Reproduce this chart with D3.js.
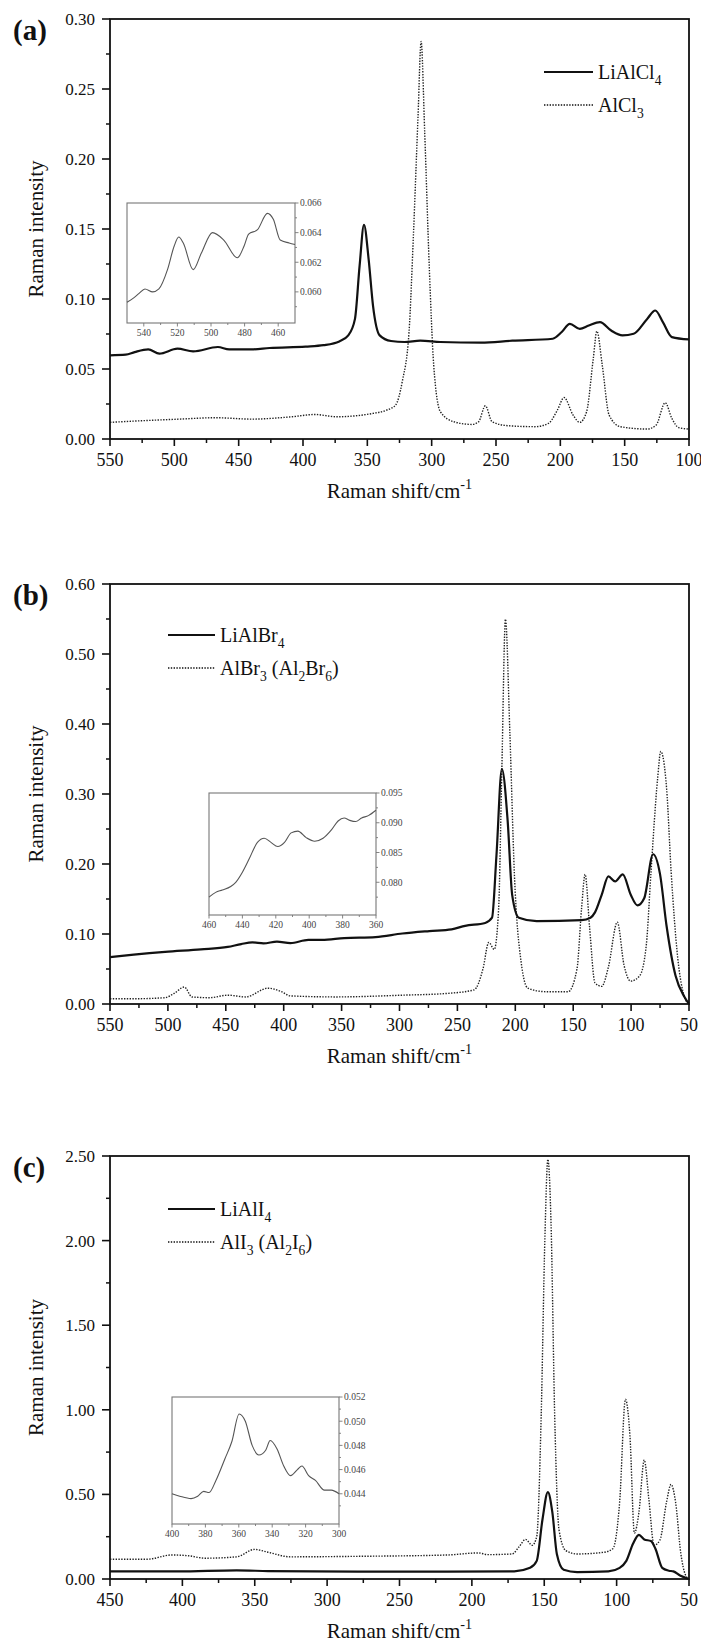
<!DOCTYPE html>
<html><head><meta charset="utf-8">
<script src="https://cdn.jsdelivr.net/npm/d3@7"></script>
<style>body{margin:0;background:#fff} svg{display:block} text{font-family:"Liberation Serif","Times New Roman",serif;}</style>
</head><body><svg id="c" width="701" height="1647"></svg>
<script>
// ---------- DATA ----------
// Panel (a)
const aLiAlCl4 = [[550,0.0598],[537.8,0.0602],[530.8,0.0621],[520.3,0.064],[511.6,0.061],[497.6,0.0645],[485.4,0.0626],[466.2,0.0657],[457.4,0.064],[440,0.064],[426,0.065],[398,0.066],[384,0.067],[371.8,0.0697],[364.8,0.074],[359.6,0.0858],[356,0.1238],[352.6,0.153],[349,0.1285],[345.6,0.0953],[340.4,0.074],[331.6,0.070],[321,0.0693],[308.9,0.0702],[293.2,0.0693],[261.7,0.0688],[237.3,0.0702],[205.9,0.0716],[198.9,0.0764],[192.6,0.0823],[184.9,0.0787],[177.9,0.0811],[169.2,0.0835],[160.5,0.0775],[151.7,0.074],[143,0.0752],[132.5,0.0858],[126.2,0.0918],[120.3,0.0835],[113.3,0.0728],[100,0.0711]];
const aAlCl3 = [[550,0.0119],[530.8,0.0128],[495.8,0.0142],[467.9,0.0152],[440,0.0142],[408.5,0.0159],[391,0.0175],[373.6,0.0159],[345.6,0.0183],[335.1,0.0206],[328.1,0.0242],[322.9,0.0408],[317.6,0.0764],[314.1,0.1475],[310.6,0.2305],[308.2,0.2839],[305.4,0.2187],[301.9,0.1238],[298.4,0.0526],[293.2,0.0194],[282.7,0.0123],[268.7,0.0104],[263.5,0.0123],[258.3,0.0237],[253,0.0123],[240.8,0.0095],[219.8,0.0088],[209.3,0.0111],[202.3,0.0206],[197.1,0.0296],[190.1,0.0171],[184.9,0.0119],[179.6,0.0194],[174.4,0.0574],[171.6,0.077],[167.4,0.0526],[162.1,0.0171],[153.4,0.0088],[132.5,0.0071],[125.5,0.010],[118.5,0.0259],[113.3,0.0147],[108,0.0081],[100,0.0071]];
const aInset = [[550,0.0593],[546,0.0596],[542.8,0.0599],[539.3,0.0602],[534.7,0.0600],[531,0.0602],[525.9,0.0615],[521.9,0.0631],[519.2,0.0637],[516.5,0.0633],[510.6,0.0615],[505.8,0.0626],[499.1,0.0640],[492.4,0.0635],[484.3,0.0623],[480.3,0.0631],[477.6,0.0639],[472.3,0.0642],[466.4,0.0653],[462.9,0.0649],[458.8,0.0635],[453.5,0.0633],[450,0.0632]];
// Panel (b)
const bLiAlBr4 = [[550,0.0669],[529.5,0.0705],[502.4,0.0745],[471.5,0.078],[448.3,0.0815],[436.7,0.0856],[427,0.088],[417.4,0.0866],[405.8,0.0891],[394.2,0.0871],[378.7,0.0916],[367,0.0916],[347.8,0.0941],[320.7,0.0956],[297.5,0.1007],[274.3,0.1042],[255,0.1067],[243.3,0.1117],[226,0.1158],[220.1,0.1233],[216.3,0.2114],[211.6,0.3357],[206.6,0.2617],[202.7,0.156],[196.9,0.1233],[181.5,0.1183],[142.8,0.1198],[135.1,0.1233],[131.2,0.1309],[125.4,0.156],[119.6,0.1822],[113.8,0.1751],[107.2,0.1852],[100.3,0.156],[94.5,0.1409],[88.7,0.151],[81,0.2139],[75.1,0.1862],[69.3,0.1107],[61.6,0.0403],[53.9,0.0101],[50,0.0]];
const bAlBr3 = [[550,0.0075],[529.5,0.0075],[502.4,0.009],[494.7,0.0151],[485.8,0.0242],[479.2,0.0101],[463.8,0.009],[448.3,0.0126],[432.8,0.0101],[413.5,0.0226],[401.9,0.0176],[394.2,0.0116],[355.5,0.0101],[297.5,0.0126],[258.8,0.0151],[235.6,0.0201],[227.9,0.0503],[222.9,0.0881],[218.2,0.078],[214.4,0.1359],[211.6,0.3372],[208.5,0.5496],[204.7,0.3875],[200.8,0.1862],[195,0.0604],[189.2,0.0226],[173.7,0.0176],[154.4,0.0176],[146.7,0.0503],[142.8,0.1359],[139.7,0.1852],[135.9,0.1107],[131.2,0.0302],[125.4,0.0252],[119.6,0.0528],[111.9,0.1168],[106.1,0.0554],[100.3,0.0327],[92.6,0.0403],[86.8,0.0856],[82.9,0.1862],[77.1,0.3221],[74.4,0.3608],[69.3,0.307],[65.5,0.1912],[59.7,0.0654],[53.9,0.0101],[50,0]];
const bInset = [[460,0.0775],[456,0.0783],[452,0.0787],[447,0.0793],[444,0.080],[440,0.0817],[436,0.0839],[431,0.0867],[426.9,0.0874],[422.9,0.0867],[418.8,0.086],[414.8,0.0867],[410.8,0.0883],[406.8,0.0886],[401.8,0.0875],[396.7,0.0869],[391.7,0.0874],[386.7,0.0888],[382.7,0.0903],[379.1,0.0908],[375.7,0.0904],[372.2,0.0902],[368.6,0.0908],[364.6,0.0912],[360,0.0921]];
// Panel (c)
const cLiAlI4 = [[450,0.045],[402.7,0.045],[362.5,0.051],[340.8,0.047],[278.9,0.043],[217,0.043],[170.7,0.045],[159.8,0.066],[155.2,0.107],[151.2,0.353],[147.5,0.5136],[144.4,0.394],[141.3,0.148],[136.6,0.055],[127.3,0.041],[105.7,0.045],[97.9,0.066],[93.3,0.107],[88.6,0.21],[84.6,0.261],[80.9,0.234],[76.3,0.224],[73.2,0.179],[68.5,0.066],[63.9,0.049],[60.8,0.045],[56.2,0.021],[50,0]];
const cAlI3 = [[450,0.117],[424.3,0.117],[407.3,0.142],[396.5,0.138],[384.1,0.123],[362.5,0.131],[350.1,0.175],[340.8,0.158],[325.3,0.131],[278.9,0.134],[217,0.142],[195.4,0.154],[189.2,0.144],[172.2,0.148],[167.5,0.189],[162.9,0.234],[158.3,0.199],[155.2,0.251],[152.1,0.97],[149.6,2.0],[147.5,2.48],[145.3,2.10],[142.8,0.97],[139.8,0.29],[135.1,0.168],[127.3,0.148],[108.7,0.158],[102.6,0.179],[97.9,0.456],[93.9,1.062],[90.8,0.846],[87.7,0.271],[84.6,0.394],[80.9,0.703],[77.8,0.477],[74.1,0.199],[70.1,0.230],[65.5,0.456],[62.4,0.559],[59.3,0.456],[55.6,0.148],[52.5,0.025],[50,0]];
const cInset = [[400,0.044],[395.4,0.0438],[388.6,0.0436],[384.6,0.0438],[381,0.0442],[377.8,0.0441],[373.7,0.0451],[368.3,0.0469],[364.2,0.0483],[359.8,0.0506],[356.1,0.050],[352,0.048],[348,0.0472],[343.9,0.0476],[341.2,0.0484],[337.1,0.0477],[333.1,0.0463],[329,0.0455],[324.9,0.046],[322.2,0.0463],[318.2,0.0455],[314.1,0.0451],[308.7,0.0443],[304.6,0.0443],[300,0.044]];

// Axis ticks / labels
const aXTicks = [550,500,450,400,350,300,250,200,150,100];
const aYTicks = [0.00,0.05,0.10,0.15,0.20,0.25,0.30];
const bXTicks = [550,500,450,400,350,300,250,200,150,100,50];
const bYTicks = [0.00,0.10,0.20,0.30,0.40,0.50,0.60];
const cXTicks = [450,400,350,300,250,200,150,100,50];
const cYTicks = [0.00,0.50,1.00,1.50,2.00,2.50];
const aInsetXTicks = [540,520,500,480,460];
const aInsetYTicks = [0.060,0.062,0.064,0.066];
const bInsetXTicks = [460,440,420,400,380,360];
const bInsetYTicks = [0.080,0.085,0.090,0.095];
const cInsetXTicks = [400,380,360,340,320,300];
const cInsetYTicks = [0.044,0.046,0.048,0.050,0.052];

const panelLabels = ["(a)","(b)","(c)"];
const legendA = [[["LiAlCl",0],["4",1]], [["AlCl",0],["3",1]]];
const legendB = [[["LiAlBr",0],["4",1]], [["AlBr",0],["3",1],[" (Al",0],["2",1],["Br",0],["6",1],[")",0]]];
const legendC = [[["LiAlI",0],["4",1]], [["AlI",0],["3",1],[" (Al",0],["2",1],["I",0],["6",1],[")",0]]];

// ---------- DRAW ----------
const svg = d3.select("#c");
const L = 110, R = 689;

function richText(g, x, y, parts, size) {
  const t = g.append("text").attr("x", x).attr("y", y).attr("font-size", size).attr("fill", "#111");
  let prevSub = 0;
  parts.forEach(([s, sub]) => {
    const ts = t.append("tspan").text(s);
    if (sub === 1) { ts.attr("font-size", size*0.68).attr("dy", prevSub===1?0:size*0.3); }
    else if (sub === 2) { ts.attr("font-size", size*0.68).attr("dy", -size*0.42); }
    else if (prevSub === 1) { ts.attr("dy", -size*0.3); }
    else if (prevSub === 2) { ts.attr("dy", size*0.42); }
    prevSub = sub;
  });
  return t;
}

function drawPanel(cfg) {
  const g = svg.append("g");
  const x = d3.scaleLinear().domain([cfg.xmax, cfg.xmin]).range([L, R]);
  const y = d3.scaleLinear().domain([0, cfg.ymax]).range([cfg.bottom, cfg.top]);
  const line = d3.line().x(d => x(d[0])).y(d => y(d[1])).curve(d3.curveMonotoneX);

  // series
  g.append("path").datum(cfg.dotted).attr("d", line).attr("fill","none")
    .attr("stroke","#222").attr("stroke-width",1.4).attr("stroke-dasharray","1.4,1.4");
  g.append("path").datum(cfg.solid).attr("d", line).attr("fill","none")
    .attr("stroke","#111").attr("stroke-width",2.2).attr("stroke-linejoin","round");

  // x ticks
  const xMinor = d3.range(cfg.xmin + 25, cfg.xmax, 50);
  g.selectAll(null).data(xMinor).join("line")
    .attr("x1", d=>x(d)).attr("x2", d=>x(d)).attr("y1", cfg.bottom).attr("y2", cfg.bottom+4)
    .attr("stroke","#111").attr("stroke-width",1.5);
  g.selectAll(null).data(cfg.xTicks).join("line")
    .attr("x1", d=>x(d)).attr("x2", d=>x(d)).attr("y1", cfg.bottom).attr("y2", cfg.bottom+7)
    .attr("stroke","#111").attr("stroke-width",1.6);
  g.selectAll(null).data(cfg.xTicks).join("text")
    .attr("x", d=>x(d)).attr("y", cfg.bottom+27).attr("text-anchor","middle")
    .attr("font-size",18).attr("fill","#111").text(d=>d);

  // y ticks
  const yStep = cfg.yTicks[1]-cfg.yTicks[0];
  const yMinor = cfg.yTicks.slice(0,-1).map(v => v + yStep/2);
  g.selectAll(null).data(yMinor).join("line")
    .attr("x1", L-4).attr("x2", L).attr("y1", d=>y(d)).attr("y2", d=>y(d))
    .attr("stroke","#111").attr("stroke-width",1.5);
  g.selectAll(null).data(cfg.yTicks).join("line")
    .attr("x1", L-8).attr("x2", L).attr("y1", d=>y(d)).attr("y2", d=>y(d))
    .attr("stroke","#111").attr("stroke-width",1.6);
  g.selectAll(null).data(cfg.yTicks).join("text")
    .attr("x", L-15).attr("y", d=>y(d)).attr("dy","0.35em").attr("text-anchor","end")
    .attr("font-size",17).attr("fill","#111").text(d=>d3.format(".2f")(d));

  // frame
  g.append("rect").attr("x",L).attr("y",cfg.top).attr("width",R-L).attr("height",cfg.bottom-cfg.top)
    .attr("fill","none").attr("stroke","#111").attr("stroke-width",1.8);

  // titles
  g.append("text").attr("transform",`translate(36,${(cfg.top+cfg.bottom)/2}) rotate(-90)`)
    .attr("text-anchor","middle").attr("dy","0.35em").attr("font-size",21).attr("fill","#111").text("Raman intensity");
  richText(g, (L+R)/2, cfg.bottom+59, [["Raman shift/cm",0],["-1",2]], 21).attr("text-anchor","middle");
  g.append("text").attr("x",13).attr("y",cfg.top+21).attr("font-size",29).attr("font-weight","bold")
    .attr("fill","#111").text(cfg.label);

  // legend
  cfg.legend.forEach((parts, i) => {
    const ly = cfg.top + cfg.legY[i];
    g.append("line").attr("x1",cfg.legX[0]).attr("x2",cfg.legX[1]).attr("y1",ly).attr("y2",ly)
      .attr("stroke","#111").attr("stroke-width", i===0?2.2:1.4).attr("stroke-dasharray", i===0?null:"1.4,1.4");
    richText(g, cfg.legX[1]+5, ly+7, parts, 20);
  });

  // inset
  const ins = cfg.inset;
  const ix = d3.scaleLinear().domain(ins.xdom).range([ins.x0, ins.x1]);
  const iy = d3.scaleLinear().domain(ins.ydom).range([ins.y1, ins.y0]);
  const il = d3.line().x(d=>ix(d[0])).y(d=>iy(d[1])).curve(d3.curveMonotoneX);
  const ig = g.append("g");
  ig.append("rect").attr("x",ins.x0).attr("y",ins.y0).attr("width",ins.x1-ins.x0).attr("height",ins.y1-ins.y0)
    .attr("fill","#fff").attr("stroke","#777").attr("stroke-width",1.1);
  ig.append("path").datum(ins.data).attr("d", il).attr("fill","none").attr("stroke","#555").attr("stroke-width",1.1);
  const ixMinor = d3.range(Math.min(...ins.xdom)+10, Math.max(...ins.xdom), 10).filter(v => !ins.xTicks.includes(v));
  ig.selectAll(null).data(ixMinor).join("line").attr("x1",d=>ix(d)).attr("x2",d=>ix(d))
    .attr("y1",ins.y1).attr("y2",ins.y1+2).attr("stroke","#777").attr("stroke-width",0.9);
  ig.selectAll(null).data(ins.xTicks).join("line").attr("x1",d=>ix(d)).attr("x2",d=>ix(d))
    .attr("y1",ins.y1).attr("y2",ins.y1+3.5).attr("stroke","#777").attr("stroke-width",0.9);
  ig.selectAll(null).data(ins.xTicks).join("text").attr("x",d=>ix(d)).attr("y",ins.y1+13)
    .attr("text-anchor","middle").attr("font-size",9.5).attr("fill","#444").text(d=>d);
  const iyStep = ins.yTicks[1]-ins.yTicks[0];
  const iyMinor = [];
  for (let v = ins.yTicks[0]-iyStep/2; v < ins.ydom[1]; v += iyStep) if (v > ins.ydom[0]) iyMinor.push(v);
  ig.selectAll(null).data(iyMinor).join("line").attr("x1",ins.x1).attr("x2",ins.x1+2)
    .attr("y1",d=>iy(d)).attr("y2",d=>iy(d)).attr("stroke","#777").attr("stroke-width",0.9);
  ig.selectAll(null).data(ins.yTicks).join("line").attr("x1",ins.x1).attr("x2",ins.x1+3.5)
    .attr("y1",d=>iy(d)).attr("y2",d=>iy(d)).attr("stroke","#777").attr("stroke-width",0.9);
  ig.selectAll(null).data(ins.yTicks).join("text").attr("x",ins.x1+5).attr("y",d=>iy(d)).attr("dy","0.35em")
    .attr("font-size",9.5).attr("fill","#444").text(d=>d3.format(".3f")(d));
}

drawPanel({label: panelLabels[0], top:19, bottom:439, xmax:550, xmin:100, ymax:0.30,
  xTicks:aXTicks, yTicks:aYTicks, solid:aLiAlCl4, dotted:aAlCl3,
  legend:legendA, legX:[544,593], legY:[53,86],
  inset:{x0:127,x1:295,y0:203,y1:323,xdom:[550,450],ydom:[0.0579,0.066],xTicks:aInsetXTicks,yTicks:aInsetYTicks,data:aInset}});
drawPanel({label: panelLabels[1], top:584, bottom:1004, xmax:550, xmin:50, ymax:0.60,
  xTicks:bXTicks, yTicks:bYTicks, solid:bLiAlBr4, dotted:bAlBr3,
  legend:legendB, legX:[168,215], legY:[51,84],
  inset:{x0:209,x1:376,y0:793,y1:915,xdom:[460,360],ydom:[0.0745,0.095],xTicks:bInsetXTicks,yTicks:bInsetYTicks,data:bInset}});
drawPanel({label: panelLabels[2], top:1156, bottom:1579, xmax:450, xmin:50, ymax:2.50,
  xTicks:cXTicks, yTicks:cYTicks, solid:cLiAlI4, dotted:cAlI3,
  legend:legendC, legX:[168,215], legY:[53,86],
  inset:{x0:172,x1:339,y0:1397,y1:1524,xdom:[400,300],ydom:[0.0415,0.052],xTicks:cInsetXTicks,yTicks:cInsetYTicks,data:cInset}});
</script></body></html>
